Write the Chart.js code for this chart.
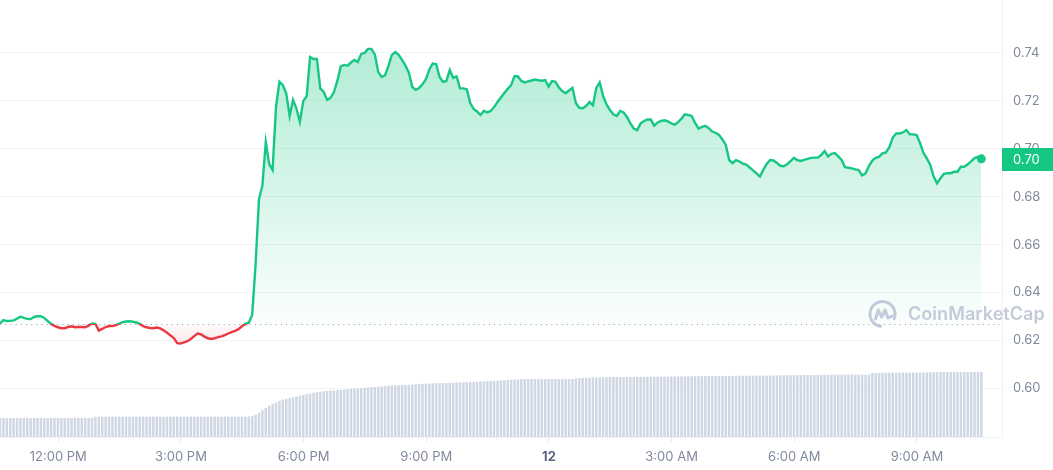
<!DOCTYPE html>
<html>
<head>
<meta charset="utf-8">
<script src="https://cdn.jsdelivr.net/npm/chart.js@4"></script>
<style>
html,body{margin:0;padding:0;background:#ffffff;overflow:hidden;}
#wrap{position:relative;width:1053px;height:470px;}
canvas{display:block;}
</style>
</head>
<body>
<div id="wrap"><canvas id="c" width="1053" height="470"></canvas></div>
<script>
// ---- data ----
const startHour = 10.575;          // first sample, hours since midnight of day 11 (≈10:35 AM)
const stepHours = 5 / 60;          // 5-minute samples
const endHour = 35.08;             // right end of the time axis
const openPrice = 0.6267;          // reference (opening) price, dotted line

const prices = [
0.6271,0.6285,0.6281,0.6282,0.6284,0.6291,0.6299,0.6294,0.6290,0.6289,
0.6298,0.6301,0.6301,0.6294,0.6281,0.6269,0.6261,0.6255,0.6251,0.6251,
0.6256,0.6259,0.6255,0.6256,0.6256,0.6255,0.6262,0.6271,0.6269,0.6241,
0.6248,0.6256,0.6260,0.6260,0.6264,0.6270,0.6276,0.6279,0.6280,0.6278,
0.6275,0.6269,0.6260,0.6255,0.6252,0.6251,0.6254,0.6250,0.6242,0.6232,
0.6221,0.6210,0.6189,0.6187,0.6192,0.6197,0.6206,0.6218,0.6229,0.6225,
0.6216,0.6209,0.6206,0.6209,0.6214,0.6217,0.6222,0.6229,0.6235,0.6240,
0.6247,0.6259,0.6269,0.6274,0.6306,0.6515,0.6790,0.6846,0.7028,0.6936,
0.6911,0.7174,0.7280,0.7266,0.7231,0.7137,0.7204,0.7168,0.7112,0.7199,
0.7219,0.7383,0.7375,0.7375,0.7252,0.7237,0.7204,0.7212,0.7237,0.7283,
0.7344,0.7350,0.7347,0.7360,0.7371,0.7362,0.7396,0.7400,0.7417,0.7417,
0.7394,0.7321,0.7300,0.7306,0.7346,0.7392,0.7404,0.7392,0.7371,0.7347,
0.7317,0.7258,0.7246,0.7254,0.7269,0.7291,0.7331,0.7356,0.7354,0.7300,
0.7279,0.7283,0.7329,0.7296,0.7302,0.7252,0.7252,0.7248,0.7191,0.7166,
0.7156,0.7141,0.7158,0.7152,0.7158,0.7174,0.7195,0.7214,0.7233,0.7250,
0.7266,0.7304,0.7302,0.7283,0.7277,0.7281,0.7285,0.7289,0.7286,0.7284,
0.7287,0.7260,0.7283,0.7280,0.7256,0.7241,0.7232,0.7243,0.7254,0.7191,
0.7171,0.7169,0.7178,0.7195,0.7181,0.7254,0.7277,0.7220,0.7185,0.7162,
0.7144,0.7137,0.7158,0.7152,0.7133,0.7106,0.7084,0.7078,0.7106,0.7116,
0.7122,0.7122,0.7097,0.7110,0.7116,0.7119,0.7114,0.7106,0.7101,0.7111,
0.7126,0.7144,0.7141,0.7137,0.7108,0.7084,0.7091,0.7096,0.7086,0.7072,
0.7067,0.7058,0.7039,0.7016,0.6953,0.6940,0.6953,0.6947,0.6938,0.6934,
0.6922,0.6910,0.6897,0.6884,0.6912,0.6937,0.6953,0.6951,0.6941,0.6929,
0.6927,0.6935,0.6948,0.6962,0.6953,0.6949,0.6954,0.6958,0.6962,0.6963,
0.6963,0.6974,0.6991,0.6968,0.6979,0.6982,0.6968,0.6953,0.6923,0.6921,
0.6918,0.6914,0.6911,0.6889,0.6897,0.6928,0.6951,0.6962,0.6967,0.6981,
0.6985,0.7007,0.7047,0.7064,0.7064,0.7068,0.7078,0.7060,0.7060,0.7057,
0.7024,0.6983,0.6960,0.6933,0.6884,0.6856,0.6877,0.6895,0.6898,0.6898,
0.6904,0.6904,0.6925,0.6925,0.6935,0.6947,0.6961,0.6966,0.6958
];

// 24h volume (relative units)
const volumes = [
18.7,18.7,18.7,18.7,18.7,18.7,18.7,18.7,18.7,18.7,
18.7,18.7,18.7,18.7,18.7,18.7,18.7,18.7,18.7,18.7,
18.7,18.7,18.7,18.7,18.7,18.7,18.7,18.7,
20,20,20,20,20,20,20,20,20,20,
20,20,20,20,20,20,20,20,20,20,
20,20,20,20,20,20,20,20,20,20,
20,20,20,20,20,20,20,20,20,20,
20,20,20,20,20,
20.2,20.8,22,24,26.5,29,31,32.8,34.3,35.7,
37,37.8,38.6,39.3,40.1,40.9,41.7,42.6,43.2,43.9,
44.6,45,45.3,45.7,46,46.3,46.6,46.8,47.1,47.4,
47.7,48,48.3,48.6,48.9,49.2,49.4,49.7,50,50.3,
50.6,50.9,51.1,51.3,51.5,51.7,51.9,52,52.2,52.4,
52.6,52.8,53,53.1,53.2,53.4,53.5,53.6,53.7,53.8,
53.9,54.1,54.2,54.3,54.5,54.6,54.7,54.9,55.1,55.3,
55.5,55.6,55.8,56,56.2,56.4,56.7,56.9,57.1,57.3,
57.5,57.6,
57.7,57.7,57.7,57.7,57.7,57.7,57.7,57.7,57.7,57.7,57.7,57.7,57.7,57.7,
58.2,58.6,58.7,58.8,59,59.2,59.3,59.4,59.5,59.6,
59.7,59.7,59.7,59.7,59.7,59.7,59.7,59.7,59.7,
59.8,59.8,59.9,59.9,60,60,60,60.1,60.1,60.2,60.2,60.2,60.3,60.3,60.4,60.4,60.5,60.5,
60.5,60.5,60.6,60.6,60.6,60.7,60.7,60.7,60.8,60.8,60.8,60.9,60.9,60.9,61,61,61,61,
61.1,61.1,61.2,61.2,61.3,61.3,61.4,61.4,61.5,61.5,61.5,61.6,61.6,61.7,61.7,61.7,61.8,61.8,61.9,61.9,62,62,62,
62,62,62,62,62,62,62,62,62,
63.7,63.7,63.7,63.8,63.8,63.8,63.9,63.9,63.9,64,64,64,64.1,64.1,64.2,64.2,64.3,64.3,64.4,64.5,
64.7,64.7,64.7,64.7,64.7,64.7,64.7,64.7,64.7,64.7,64.7,64.7,64.7
];

const priceTicks = [0.60, 0.62, 0.64, 0.66, 0.68, 0.70, 0.72, 0.74];
const timeTickHours = [12, 15, 18, 21, 24, 27, 30, 33];
const timeTickLabels = ['12:00 PM', '3:00 PM', '6:00 PM', '9:00 PM', '12', '3:00 AM', '6:00 AM', '9:00 AM'];

// ---- styles ----
const GREEN = '#16c784';
const RED = '#ea3943';
const FONT = 'Inter, "Noto Sans", sans-serif';
Chart.defaults.font.family = FONT;

const pricePoints = prices.map((p, i) => ({ x: startHour + i * stepHours, y: p }));
const volumePoints = volumes.map((v, i) => ({ x: startHour + i * stepHours, y: v }));

function noPad(s) { s.paddingTop = 0; s.paddingBottom = 0; s.paddingLeft = 0; s.paddingRight = 0; }

const decor = {
  id: 'decor',
  beforeDatasetsDraw(chart) {
    const { ctx, chartArea, scales } = chart;
    const y = Math.round(scales.y.getPixelForValue(openPrice)) + 0.5;
    ctx.save();
    ctx.strokeStyle = 'rgba(128,138,157,0.75)';
    ctx.lineWidth = 1;
    ctx.setLineDash([1.2, 4]);
    ctx.beginPath();
    ctx.moveTo(chartArea.left, y);
    ctx.lineTo(chartArea.right, y);
    ctx.stroke();
    ctx.restore();
  },
  afterDatasetsDraw(chart) {
    // CoinMarketCap watermark
    const ctx = chart.ctx;
    ctx.save();
    const col = 'rgba(188,197,214,0.9)';
    const cx = 882.5, cy = 314, r = 12.5;
    ctx.strokeStyle = col;
    ctx.lineWidth = 3;
    ctx.lineCap = 'round';
    ctx.lineJoin = 'round';
    ctx.beginPath();
    ctx.arc(cx, cy, r, 0.55 * Math.PI, 2.12 * Math.PI, false);
    ctx.stroke();
    ctx.beginPath();
    ctx.moveTo(cx - 7, cy + 5);
    ctx.lineTo(cx - 4.2, cy - 4);
    ctx.lineTo(cx - 0.8, cy + 3);
    ctx.lineTo(cx + 2.6, cy - 4);
    ctx.lineTo(cx + 5.5, cy + 4);
    ctx.lineTo(cx + 9.5, cy + 2);
    ctx.stroke();
    const text = 'CoinMarketCap';
    let size = 19;
    ctx.font = '600 ' + size + 'px ' + FONT;
    const w = ctx.measureText(text).width;
    size = size * 137 / w;
    ctx.font = '600 ' + size.toFixed(2) + 'px ' + FONT;
    ctx.fillStyle = col;
    ctx.textBaseline = 'middle';
    ctx.textAlign = 'left';
    ctx.fillText(text, 908, 315);
    ctx.restore();
  },
  afterDraw(chart) {
    // current price tag
    const { ctx, chartArea, scales } = chart;
    const last = prices[prices.length - 1];
    const y = scales.y.getPixelForValue(last);
    ctx.save();
    ctx.fillStyle = GREEN;
    ctx.fillRect(chartArea.right, Math.round(y - 11), chart.width - chartArea.right, 23);
    ctx.fillStyle = '#ffffff';
    ctx.font = '13px ' + FONT;
    ctx.textBaseline = 'middle';
    ctx.textAlign = 'left';
    ctx.fillText(last.toFixed(2), chartArea.right + 11, Math.round(y) + 1);
    ctx.restore();
  }
};

const chart = new Chart(document.getElementById('c'), {
  type: 'line',
  data: {
    datasets: [
      {
        label: 'Price',
        data: pricePoints,
        yAxisID: 'y',
        order: 0,
        borderColor: GREEN,
        borderWidth: 2.4,
        tension: 0,
        fill: false,
        pointRadius: (c) => (c.dataIndex === prices.length - 1 ? 4.5 : 0),
        pointHoverRadius: 0,
        pointBackgroundColor: GREEN,
        pointBorderColor: GREEN,
        pointBorderWidth: 0
      },
      {
        type: 'bar',
        label: 'Volume',
        data: volumePoints,
        yAxisID: 'yVol',
        order: 1,
        backgroundColor: '#cfd6e4',
        borderWidth: 0,
        barThickness: 1.8
      }
    ]
  },
  options: {
    responsive: false,
    animation: false,
    events: [],
    layout: { padding: 0, autoPadding: false },
    plugins: { legend: { display: false }, tooltip: { enabled: false } },
    scales: {
      x: {
        type: 'linear',
        min: startHour,
        max: endHour,
        offset: false,
        afterBuildTicks: (s) => { s.ticks = timeTickHours.map((v) => ({ value: v })); },
        afterFit: (s) => { s.height = 33; noPad(s); },
        grid: { display: true, drawOnChartArea: false, drawTicks: true, tickLength: 5, color: '#e6e9ee', offset: false },
        border: { display: true, color: '#eef0f3' },
        ticks: {
          autoSkip: false,
          maxRotation: 0,
          padding: 7,
          callback: (v) => { const k = timeTickHours.indexOf(v); return k >= 0 ? timeTickLabels[k] : ''; },
          font: (c) => ({ family: FONT, size: 13, weight: (c.tick && c.tick.value === 24) ? '700' : '400' }),
          color: (c) => ((c.tick && c.tick.value === 24) ? '#58667e' : '#808a9d')
        }
      },
      y: {
        position: 'right',
        min: 0.5797,
        max: 0.7621,
        afterBuildTicks: (s) => { s.ticks = priceTicks.map((v) => ({ value: v })); },
        afterFit: (s) => { s.width = 51; noPad(s); },
        grid: { color: '#f2f3f6', drawTicks: false, lineWidth: 1 },
        border: { display: true, color: '#eef0f3' },
        ticks: {
          padding: 11,
          color: '#808a9d',
          font: { family: FONT, size: 13 },
          callback: (v) => Number(v).toFixed(2)
        }
      },
      yVol: {
        display: false,
        min: 0,
        max: 437
      }
    }
  },
  plugins: [decor]
});

// gradients depend on the laid-out chart area
(function applyGradients() {
  const { chartArea, scales, ctx } = chart;
  const yb = scales.y.getPixelForValue(openPrice);
  const yTop = scales.y.getPixelForValue(Math.max(...prices));
  const yLow = scales.y.getPixelForValue(Math.min(...prices));
  const h = chartArea.bottom - chartArea.top;
  const f = Math.min(1, Math.max(0, (yb - chartArea.top) / h));
  const gLine = ctx.createLinearGradient(0, chartArea.top, 0, chartArea.bottom);
  gLine.addColorStop(0, GREEN);
  gLine.addColorStop(f, GREEN);
  gLine.addColorStop(f, RED);
  gLine.addColorStop(1, RED);
  const gUp = ctx.createLinearGradient(0, yTop, 0, yb);
  gUp.addColorStop(0, 'rgba(22,199,132,0.33)');
  gUp.addColorStop(1, 'rgba(22,199,132,0.02)');
  const gDown = ctx.createLinearGradient(0, yb, 0, yLow);
  gDown.addColorStop(0, 'rgba(234,57,67,0.02)');
  gDown.addColorStop(1, 'rgba(234,57,67,0.12)');
  const ds = chart.data.datasets[0];
  ds.borderColor = gLine;
  ds.fill = { target: { value: openPrice }, above: gUp, below: gDown };
  chart.update('none');
})();
</script>
</body>
</html>
